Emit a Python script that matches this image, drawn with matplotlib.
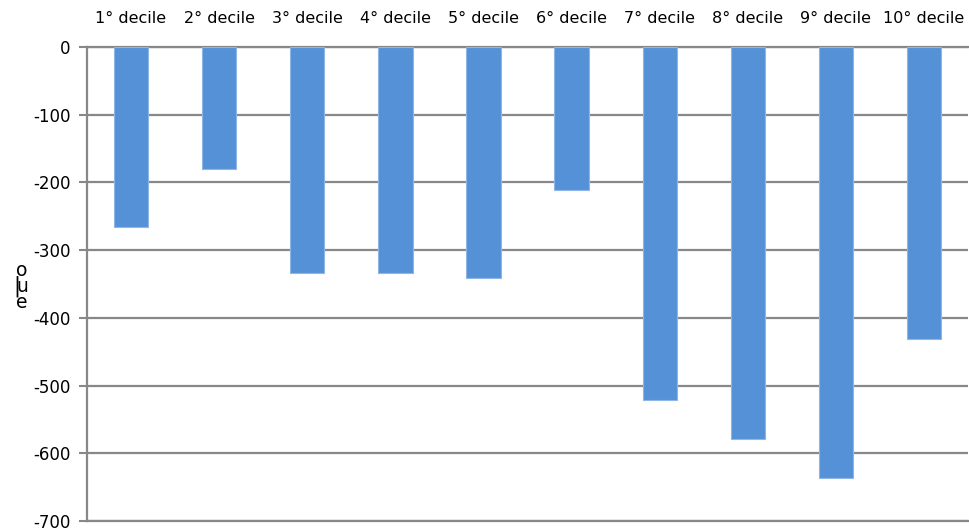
import matplotlib.pyplot as plt
import numpy as np

plt.rcParams["axes.unicode_minus"] = False

deciles = ["1° decile", "2° decile", "3° decile", "4° decile", "5° decile",
           "6° decile", "7° decile", "8° decile", "9° decile", "10° decile"]
values = [-266, -181, -334, -334, -342, -212, -522, -579, -636, -431]

bar_color = "#5591d6"
grid_color = "#888888"

fig = plt.figure(figsize=(9.7, 5.28), dpi=100)
ax = fig.add_axes([0.0897, 0.0133, 0.9083, 0.898])

x = np.arange(len(deciles))
ax.bar(x, values, width=0.39, color=bar_color, edgecolor="#8fb6e6",
       linewidth=0.8, zorder=3)

ax.set_xlim(-0.5, len(deciles) - 0.5)
ax.set_ylim(-700, 0)
ax.set_yticks(np.arange(-700, 1, 100))

ax.xaxis.tick_top()
ax.set_xticks(x)
ax.set_xticklabels(deciles, fontsize=11.5)
ax.tick_params(axis="x", length=0, pad=15)
ax.tick_params(axis="y", length=6, width=1.5, color=grid_color,
               labelsize=12, pad=6)

ax.yaxis.grid(True, color=grid_color, linewidth=1.6, zorder=0)
ax.spines["right"].set_visible(False)
for side in ["left", "top", "bottom"]:
    ax.spines[side].set_color(grid_color)
    ax.spines[side].set_linewidth(1.6)

# axis title, drawn stacked as in the original
for ch, ypix in [("o", 271), ("u", 287), ("e", 302)]:
    fig.text(22 / 970, 1 - ypix / 528, ch, fontsize=13.5,
             ha="center", va="center")
fig.text(17 / 970, 1 - 286 / 528, "|", fontsize=15, ha="center", va="center")

fig.savefig("out.png", dpi=100)
